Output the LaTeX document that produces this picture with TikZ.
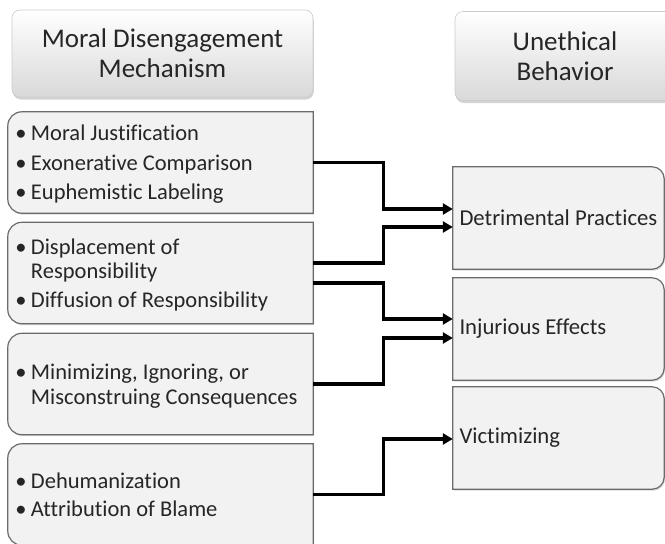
\documentclass[tikz,border=0pt]{standalone}
\usepackage{fontspec}
\setmainfont{Carlito}[Ligatures=NoCommon]
\usetikzlibrary{arrows.meta,shadows,backgrounds}

% frame with rounded corners on the left side only
\newcommand\leftframe[1]{%
  \path[outline] ([xshift=14pt]#1.north west)
    arc[start angle=90,end angle=180,radius=14pt]
    -- ([yshift=14pt]#1.south west)
    arc[start angle=180,end angle=270,radius=14pt]
    -- (#1.south east) -- (#1.north east) -- cycle;}
% frame with rounded corners on the right side only
\newcommand\rightframe[1]{%
  \path[outline] (#1.north west) -- ([xshift=-12pt]#1.north east)
    arc[start angle=90,end angle=0,radius=12pt]
    -- ([yshift=12pt]#1.south east)
    arc[start angle=0,end angle=-90,radius=12pt]
    -- (#1.south west) -- cycle;}
\newcommand\bul{\makebox[10pt]{\textbullet}}
% bullet list, set a little below the centre of its box
\newcommand\bullist[1]{\noindent\spaceskip=0pt\xspaceskip=0pt
  \raisebox{-3pt}[\height][\depth]{%
  \begin{tabular}{@{}l@{\hspace{5pt}}l@{}}#1\end{tabular}}}

\begin{document}
\begin{tikzpicture}[x=1pt,y=-1pt,
  head/.style={rounded corners=8pt, draw=black!20, line width=0.6pt,
    top color=white, bottom color=black!15,
    drop shadow={shadow xshift=0.8pt, shadow yshift=-2.5pt, opacity=0.35},
    font=\fontsize{27}{30}\selectfont, text=black!85, align=center, inner sep=0pt},
  cell/.style={minimum height=101pt, inner xsep=8pt, inner ysep=0pt,
    text width=289pt,
    font=\fontsize{22.5}{24.5}\selectfont, text=black!85},
  target/.style={minimum width=211pt, minimum height=102pt, inner xsep=6.5pt,
    inner ysep=0pt, font=\fontsize{22.7}{24.5}\selectfont, text=black!85},
  outline/.style={draw=black!58, line width=1.2pt, fill=black!5,
    drop shadow={shadow xshift=1pt, shadow yshift=-1.5pt, opacity=0.3}},
  conn/.style={line width=3.2pt, -{Triangle[length=10pt,width=11pt]}},
]
\useasboundingbox (0,0) rectangle (665,544);

% column headers
\node[head, minimum width=301pt, minimum height=87pt] (hl) at (162.5,53.5)
  {Moral Disengagement\\Mechanism};
\node[head, minimum width=220pt, minimum height=89pt] (hr) at (565,56)
  {Unethical\\Behavior};

% mechanisms
\node[cell] (m1) at (160.5,162.5) {\bullist{%
  \bul & Moral Justification\\[5pt]
  \bul & Exonerative Comparison\\[5pt]
  \bul & Euphemistic Labeling}};
\node[cell] (m2) at (160.5,273) {\bullist{%
  \bul & Displacement of\\
       & Responsibility\\[4pt]
  \bul & Diffusion of Responsibility}};
\node[cell] (m3) at (160.5,384) {\bullist{%
  \bul & Minimizing, Ignoring, or\\
       & Misconstruing Consequences}};
\node[cell] (m4) at (160.5,494.5) {\bullist{%
  \bul & Dehumanization\\[4pt]
  \bul & Attribution of Blame}};

% behaviours
\node[target] (r1) at (558.5,218) {\makebox[198pt][l]{Detrimental Practices}};
\node[target] (r2) at (558.5,329) {\makebox[198pt][l]{Injurious Effects}};
\node[target] (r3) at (558.5,438) {\makebox[198pt][l]{Victimizing}};

\begin{scope}[on background layer]
  \leftframe{m1}\leftframe{m2}\leftframe{m3}\leftframe{m4}
  \rightframe{r1}\rightframe{r2}\rightframe{r3}
\end{scope}

% links from mechanisms to behaviours
\draw[conn] (m1.east) -- ++(70,0) |- ([yshift=9pt]r1.west);
\draw[conn] ([yshift=10pt]m2.east) -- ++(70,0) |- ([yshift=-9pt]r1.west);
\draw[conn] ([yshift=-10pt]m2.east) -- ++(70,0) |- ([yshift=10pt]r2.west);
\draw[conn] (m3.east) -- ++(70,0) |- ([yshift=-9pt]r2.west);
\draw[conn] (m4.east) -- ++(70,0) |- ([yshift=-1pt]r3.west);
\end{tikzpicture}
\end{document}
